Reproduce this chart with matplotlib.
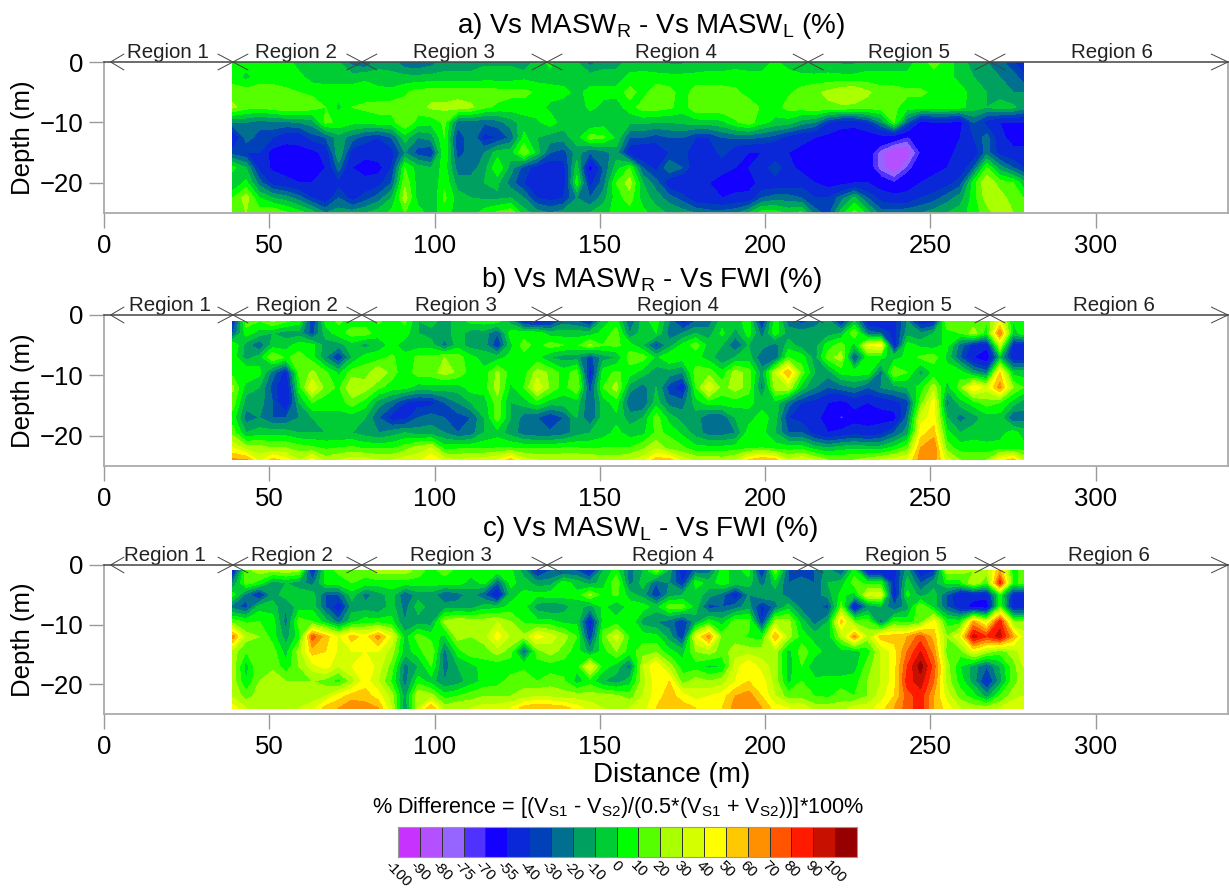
import numpy as np
import matplotlib
matplotlib.use('Agg')
import matplotlib.pyplot as plt
from matplotlib.colors import ListedColormap, BoundaryNorm

plt.rcParams['font.family'] = ['Liberation Sans', 'DejaVu Sans']
plt.rcParams['mathtext.default'] = 'regular'

W, H = 1229, 888

# colour scale
labels = [-100, -90, -80, -75, -70, -55, -40, -30, -20, -10, 0, 10, 20, 30, 40, 50, 60, 70, 80, 90, 100]
colors = ['#c832ff', '#b450ff', '#9664ff', '#5032ff', '#1400ff', '#0a28d8', '#0040b8', '#006f90',
          '#00a060', '#00cc33', '#00ff00', '#55ff00', '#aaff00', '#d4ff00', '#ffff00', '#ffc800',
          '#ff9000', '#ff5500', '#ff1a00', '#c81000', '#960000']
levels = labels + [110]

regions = ['Region 1', 'Region 2', 'Region 3', 'Region 4', 'Region 5', 'Region 6']
region_x = [19.4, 58, 106, 173, 243.5, 305]
region_marks = [39, 78, 134, 213, 268]

xs = list(range(39, 276, 4)) + [278]

depth_a = [0, -2.5, -5, -7.5, -10, -12.5, -15, -17.5, -20, -22.5, -25]
depth_bc = [-1, -3, -5, -7, -9.5, -12, -14.5, -17, -19.5, -22, -24]

diff_a = [
    [5, 5, 5, 5, 5, -5, -5, -5, -10, -25, -30, -15, -15, -28, -30, -25, -15, -15, -15, -12, -12, -12, -20, -5, 3, -10, -10, -25, -15, -15,
     -5, -5, -8, -12, -12, -8, -5, -5, -5, -5, -5, 2, -5, -10, -12, -8, -12, -12, -5, -5, -5, -5, 5, 15, 5, -5, -15, -20, -25, -40, -50],
    [5, -3, 5, 5, 5, 3, -5, -5, -5, -5, -2, -5, -7, -7, -7, -7, -7, -7, -7, -5, -5, -5, -3, -5, -5, -5, -5, -5, -5, -5,
     2, 3, 3, 3, 3, 3, 3, 3, 5, 3, 3, 3, 5, 3, 3, 3, 3, 3, 3, 3, 3, 3, 3, 3, 3, -3, -10, -15, -20, -25, -35],
    [15, 15, 15, 15, 12, 10, 8, 5, 5, 5, 5, 3, 3, 8, 14, 15, 15, 15, 15, 15, 14, 13, 13, 8, 5, 3, -3, 3, 3, 3,
     15, 5, 18, 14, 5, 15, 15, 15, 12, 5, 3, 3, 8, 14, 18, 22, 28, 30, 22, 15, 15, 12, 12, 8, 5, 3, -3, -10, -15, -20, -20],
    [22, 14, 12, 15, 20, 18, 15, 10, -3, 10, 12, 14, 15, 15, 15, 22, 22, 25, 22, 12, 8, 5, 5, 5, -3, -5, -8, 3, -3, -5,
     5, 15, 15, 12, 5, 17, 18, 18, 18, 17, 8, 5, 14, 15, 18, 18, 18, 17, 15, 15, 12, 5, 5, 5, 5, 3, -5, -10, -5, -8, -15],
    [-20, -20, -25, -22, -22, -20, -15, 12, 8, 3, 3, 5, 5, 20, 5, 3, 12, -25, -25, -28, -25, -15, -5, -2, 5, -5, -5, -10, -5, -3,
     -8, -8, -10, -10, -8, -5, -5, -3, 8, 15, 3, -3, -5, -15, -20, -40, -50, -50, -40, -20, 10, -30, -60, -55, -55, -60, -30, -45, -55, -55, -55],
    [-55, -25, -35, -40, -50, -50, -35, -30, -15, -25, -35, -40, -30, -5, -20, -15, 10, -40, -20, -45, -40, -28, 3, -10, -15, -15, -5, 15, 12, -2,
     -30, -30, -35, -30, -30, -40, -40, -30, -28, -28, -30, -35, -45, -50, -55, -60, -62, -65, -65, -62, -65, -72, -62, -62, -60, -55, -40, -25, -50, -62, -62],
    [-35, -40, -40, -62, -62, -60, -60, -50, -10, -45, -50, -45, -45, -20, -35, -40, 10, -35, -25, -20, -5, -5, 20, -5, -30, -35, -15, -30, -25, -15,
     -50, -55, -50, -40, -35, -50, -50, -35, -50, -55, -55, -55, -55, -60, -62, -62, -62, -62, -65, -78, -88, -85, -70, -62, -60, -50, -50, -25, -45, -50, -50],
    [3, -10, -45, -58, -62, -62, -60, -55, -25, -55, -62, -62, -40, 10, -5, -10, 5, -25, -25, -15, 10, -15, -35, -45, -50, -45, -5, -62, -30, -5,
     10, -30, -45, -20, -30, -50, -50, -50, -55, -55, -50, -30, -50, -60, -62, -62, -62, -65, -65, -78, -85, -75, -62, -60, -55, -50, -30, 10, -15, -30, -40],
    [-10, 3, -25, -45, -50, -55, -55, -50, -45, -50, -50, -45, -30, 18, -5, -10, 8, -15, -15, -10, -8, -25, -40, -55, -55, -50, 5, -45, -25, 10,
     25, -10, -25, -50, -55, -50, -55, -62, -65, -62, -50, -50, -50, -45, -55, -62, -60, -55, -55, -65, -70, -62, -55, -50, -45, -35, 5, 30, 15, 10, -5],
    [10, 25, 0, -10, -15, -25, -40, -50, -30, -45, -35, -25, -10, 25, -5, -10, 12, -5, -10, -12, -12, -10, -20, -40, -45, -40, -20, -30, -15, 5,
     15, -5, -15, -25, -35, -50, -50, -55, -50, -50, -30, -25, -25, -30, -40, -40, -25, -8, -30, -45, -50, -50, -40, -35, -25, -15, 5, 25, 25, 15, 10],
    [12, 20, 15, 20, 12, 5, -5, -20, -15, -15, -10, -5, 3, 10, 5, -5, 5, -5, -5, 5, 12, 18, -5, -15, -20, -15, -10, -10, -3, 3,
     5, 3, -5, -12, -15, -20, -25, -25, -22, -10, 5, 5, -3, 3, -25, -35, -5, 15, -5, -25, -25, -22, -20, -15, -10, -5, 5, 15, 25, 20, 10],
]

diff_b = [
    [-45, 15, 10, 22, 12, 5, -40, 3, 12, 5, 5, 12, 3, 12, -10, -5, -15, -5, 3, 5, 5, -15, -45, -50, -45, -25, -30, -45, -5, 5,
     -30, -5, 5, -20, -50, -30, -25, -5, -5, 5, -45, 8, -25, -35, -25, -15, -45, -10, -50, -55, -45, -20, -50, -45, 20, 15, 15, 10, 40, 0, 10],
    [-30, 5, -5, -10, -15, -15, -35, -5, 5, 15, 15, 3, 3, 5, -10, -15, -15, -5, -15, -15, -30, 5, 5, 5, -5, -5, -5, -5, 3, 15,
     -20, -5, 0, -25, -20, -10, -15, 3, -15, 5, -25, 5, -15, -15, -15, -15, -10, 20, -25, -30, -45, -15, -20, -10, 5, 10, 25, 5, 70, -5, 5],
    [10, -15, -30, -5, -5, 5, 3, -15, -15, -5, -15, -5, 3, -5, -5, -5, -25, -5, -15, -15, -40, -3, 15, 5, 15, 10, 8, 22, 10, 12,
     5, -10, -35, -15, 3, 15, -5, -10, -30, -10, -15, -25, -5, -15, -15, 5, 15, -5, 40, 45, -50, 5, -3, -5, 3, -25, -45, -50, 30, -45, -45],
    [5, -15, -5, 20, 8, 15, 5, -20, -42, -10, 5, 5, 12, 3, 12, 12, 20, 15, 3, -5, -5, 3, 5, 3, -10, -15, -15, -35, -15, -10,
     15, 15, -3, 10, 5, 3, -5, -20, -10, -5, -30, -30, 10, 5, -15, 15, 25, -35, 5, 3, -5, 3, 12, 15, -3, -30, -55, -70, -10, -50, -50],
    [5, 10, 3, -25, -45, 12, 22, 12, -3, 15, 15, 30, 15, 3, 15, 15, 25, 18, 5, 3, 22, 5, 5, 25, 18, 5, 15, -50, 5, 12,
     5, -5, -15, -15, -20, 15, 15, 3, 25, 15, -15, 30, 60, 15, -10, -15, 3, 5, 5, -25, 20, 10, -15, 3, 5, 5, -15, -25, 50, -5, -5],
    [22, -5, -10, -35, -55, 5, 40, 15, 8, 30, 25, 12, 5, 3, -5, -3, -5, -5, 5, 5, 25, -3, 10, 38, 18, 5, 20, -35, 10, 25,
     -15, -25, -10, -35, -50, 10, 40, 15, 25, 15, -25, 25, 30, -5, -20, -30, -25, -20, -30, -20, -15, -10, 5, 25, -5, 15, 50, 35, 65, 20, 10],
    [15, -15, -15, -30, -55, -10, 10, 5, 5, 15, 5, -15, -25, -40, -45, -45, -30, -20, -10, -5, 15, -10, -5, 5, -5, -5, -5, -30, -5, 5,
     -30, -30, -5, -25, -25, -5, 5, 5, 5, 3, -5, -3, -25, -40, -45, -55, -60, -50, -55, -50, -45, -35, 15, 45, -25, -5, 5, 15, 10, -5, -15],
    [5, -25, -20, -30, -30, -20, -10, -5, -5, -5, -10, -30, -45, -45, -30, -25, -30, -35, -30, -10, 15, -10, -25, -30, -40, -30, -10, -30, -5, -3,
     -15, -10, 15, -5, -15, -15, -30, -28, -10, -5, 5, -5, -40, -45, -50, -62, -72, -62, -62, -62, -62, -25, 35, 45, -10, -25, -15, -5, -5, -30, -25],
    [15, -10, -5, -5, -5, -10, -10, -10, -10, -10, -15, -20, -15, -10, -15, -15, -20, -30, -25, -10, -5, -15, -25, -28, -28, -25, -15, -10, -5, 3,
     -5, -3, 12, 8, -3, -15, -25, -25, -20, 5, 3, -10, -30, -30, -45, -55, -50, -45, -50, -45, -30, -15, 45, 55, 3, -10, -5, -5, -5, 5, -5],
    [40, 25, 25, 20, 20, 15, 12, 8, 10, 12, 8, 8, 8, 15, 25, 30, 5, 8, 8, 8, 10, 10, 8, 8, 8, 10, 10, 8, 10, 10,
     10, 18, 28, 15, 12, 3, 3, 3, 5, 8, 10, 5, 5, 5, -5, -10, -5, -3, -5, -5, 3, 15, 60, 70, 15, 5, 5, 3, 5, 5, 5],
    [62, 62, 35, 55, 45, 30, 45, 25, 30, 35, 35, 30, 30, 35, 35, 50, 35, 30, 35, 35, 40, 55, 35, 30, 30, 30, 30, 30, 25, 25,
     30, 35, 55, 55, 35, 28, 28, 25, 30, 50, 60, 55, 30, 40, 30, 20, 20, 20, 25, 30, 35, 40, 65, 65, 35, 20, 18, 20, 45, 55, 30],
]

diff_c = [
    [-50, 15, 25, 20, 25, 20, -45, 5, 12, 15, 15, 25, 25, 25, 15, 5, 15, 5, 5, 5, 5, 3, -15, -45, -30, -30, -30, -45, -10, 5,
     -25, -10, 15, -15, -50, -25, -25, 5, -5, 5, -45, 15, -30, -35, -30, -15, -30, 5, -50, -55, -45, -15, -50, -40, 25, 25, 20, 25, 60, 5, 15],
    [-20, 15, 5, -15, -10, -15, -25, 3, 5, 10, 5, 5, 5, 5, 5, 5, 3, 5, -5, 3, -30, 3, -5, -15, -15, 5, -5, -15, -5, 20,
     -25, -5, -30, -20, -40, 5, -5, 5, -5, -5, -25, -5, -30, -25, -30, -10, -5, 15, 5, 5, -45, -5, -30, -15, 3, 5, 30, 10, 85, 5, 15],
    [5, -25, -45, -15, -5, -5, -5, -30, -30, -5, -25, -15, -5, -30, -15, -15, -30, -25, -15, -30, -55, -5, 3, 3, 5, 5, 3, 22, 5, 12,
     -5, -15, -40, -15, -10, -5, -15, -25, -50, -20, -10, -15, -25, -30, -25, -15, 3, -5, 35, 35, -50, 3, -15, -5, -30, -55, -50, -50, 5, -45, -45],
    [-25, -35, -5, -5, -20, -5, -3, -30, -50, -15, -15, -20, -5, -25, -5, -15, -15, -15, -15, -5, -5, 3, 3, -15, -20, -15, -5, -15, 3, -10,
     5, 5, -5, 15, 15, -5, -35, -30, -25, -15, -45, -25, -5, -25, -25, -35, 15, -55, -20, -10, -30, -15, 20, -5, -30, -50, -60, -65, 10, -50, -50],
    [15, 8, 10, 5, -25, 15, 10, -5, -25, -3, 5, 5, 3, -20, -15, -15, 22, 30, 25, 25, 30, 20, 8, 3, 3, -3, -3, -50, 3, 5,
     10, -15, -20, -25, -40, -15, 5, -5, 15, 15, -40, 25, 25, -5, -25, -10, 55, 15, 15, -25, 10, 5, 15, 45, 5, 5, 60, 35, 85, 20, 20],
    [65, 25, 20, 5, -15, 5, 75, 55, 38, 55, 45, 65, 38, -5, 15, 5, -3, 25, 20, 25, 45, 28, 22, 45, 35, 25, 10, -40, 15, 35,
     8, 5, 3, -15, -40, 40, 65, 15, 15, 8, 5, 60, 25, 5, -5, -5, 25, 65, 25, 55, 55, 60, 75, 55, 20, 40, 95, 80, 95, 60, 35],
    [25, 10, 15, 15, -5, 25, 55, 50, 38, 40, 40, 40, 25, -5, 5, 20, -25, 5, 18, 15, 25, 15, -30, 15, 25, 15, 5, -15, 5, 20,
     5, 15, 18, 3, -5, 20, 25, 15, 25, 25, 25, 25, -5, 15, 5, -5, -5, -5, 5, 30, 45, 70, 90, 65, 15, 15, 40, 25, 15, 25, 35],
    [25, -5, 20, 18, 3, 20, 35, 45, 30, 40, 50, 35, 15, -25, -10, 10, -25, -10, -5, 5, 3, 3, 8, 5, 5, 5, 3, 40, 5, -5,
     -25, 30, 50, 25, 5, 5, -3, 0, 35, 50, 35, 25, -5, 10, -10, -10, -10, -5, 15, 30, 45, 80, 105, 75, 25, 0, -15, -30, -10, 15, 30],
    [25, 0, 20, 25, 20, 20, 20, 15, 5, 25, 45, 30, 8, -25, 5, -5, -20, -15, -5, 3, 5, 15, 15, 10, 15, 12, -5, 5, -10, -15,
     -5, 25, 45, 50, 15, 25, 20, 25, 40, 50, 45, 25, -3, 10, 3, 5, 5, 5, 20, 30, 45, 85, 95, 70, 25, 5, -15, -45, -15, 15, 25],
    [28, 15, 25, 25, 25, 30, 25, 30, 45, 55, 55, 45, 25, -15, 30, 25, 5, 10, 15, 20, 20, 20, 25, 30, 28, 25, 25, 25, 25, 22,
     15, 30, 45, 55, 45, 35, 40, 45, 60, 65, 50, 30, 15, 15, 10, 8, 15, 10, 20, 35, 50, 75, 85, 60, 35, 15, 5, -15, 10, 25, 30],
    [45, 30, 30, 30, 30, 30, 35, 55, 60, 70, 65, 60, 30, -20, 30, 60, 25, 30, 30, 35, 35, 40, 55, 60, 58, 55, 45, 35, 30, 30,
     30, 35, 50, 60, 55, 50, 50, 50, 65, 70, 60, 45, 40, 40, 25, 25, 25, 35, 35, 45, 60, 75, 85, 60, 45, 30, 25, 25, 30, 40, 40],
]

cmap = ListedColormap(colors)
norm = BoundaryNorm(levels, cmap.N)


def box(left, top, right, bottom):
    return [left / W, 1 - bottom / H, (right - left) / W, (bottom - top) / H]


def panel(fig, rect, depth, diff, title, title_x, title_y, shift):
    ax = fig.add_axes(box(*rect))
    ax.contourf(xs, depth, diff, levels=levels, cmap=cmap, norm=norm, extend='both')
    ax.set_xlim(0, 340)
    ax.set_ylim(-25, 0)
    ax.set_xticks([0, 50, 100, 150, 200, 250, 300])
    ax.set_yticks([0, -10, -20])
    ax.tick_params(labelsize=18.5, length=11, width=1, color='#999999', pad=4)
    ax.set_ylabel('Depth (m)', fontsize=18.5, labelpad=3)
    for s in ax.spines.values():
        s.set_color('#aaaaaa')
        s.set_linewidth(1.3)
    ax.spines['top'].set_visible(False)

    # region line with arrows
    ax.plot([0, 340], [0, 0], color='#444444', lw=1.1, clip_on=False, zorder=5)
    for m in region_marks:
        ax.plot([m - 4.5, m + 4.5], [1.3, -1.3], color='#444444', lw=0.7, clip_on=False, zorder=5)
        ax.plot([m - 4.5, m + 4.5], [-1.3, 1.3], color='#444444', lw=0.7, clip_on=False, zorder=5)
    ax.plot([6, 2, 6], [1.3, 0, -1.3], color='#444444', lw=0.7, clip_on=False, zorder=5)
    ax.plot([335, 340, 335], [1.3, 0, -1.3], color='#444444', lw=0.7, clip_on=False, zorder=5)
    for name, x in zip(regions, region_x):
        ax.text(x + shift, 0.05, name, ha='center', va='bottom', fontsize=14.8, color='#222222')

    fig.text(title_x / W, 1 - title_y / H, title, ha='center', va='baseline', fontsize=20)
    return ax


fig = plt.figure(figsize=(W / 100, H / 100), dpi=100)

panel(fig, (104, 62, 1228, 213), depth_a, diff_a,
      'a) Vs MASW$_{R}$ - Vs MASW$_{L}$ (%)', 651, 33, 0)
panel(fig, (104, 315, 1228, 466), depth_bc, diff_b,
      'b) Vs MASW$_{R}$ - Vs FWI (%)', 651, 287, 0.5)
ax_c = panel(fig, (104, 565, 1228, 714), depth_bc, diff_c,
             'c) Vs MASW$_{L}$ - Vs FWI (%)', 650, 536, -1)
ax_c.set_xlabel('Distance (m)', fontsize=20, labelpad=2, x=0.505)

fig.text(618 / W, 1 - 813 / H,
         '% Difference = [(V$_{S1}$ - V$_{S2}$)/(0.5*(V$_{S1}$ + V$_{S2}$))]*100%',
         ha='center', va='baseline', fontsize=15.6)

# colour bar
cax = fig.add_axes(box(398, 827, 857, 857))
cax.pcolormesh(np.arange(len(colors) + 1), [0, 1], [np.arange(len(colors))],
               cmap=cmap, vmin=-0.5, vmax=len(colors) - 0.5, edgecolors='#333333', linewidth=0.5)
cax.set_yticks([])
cax.set_xticks(np.arange(len(labels)))
cax.set_xticklabels(labels, rotation=-45, ha='center', va='top', fontsize=11)
cax.tick_params(axis='x', length=0, pad=1)
for s in cax.spines.values():
    s.set_color('#999999')

fig.savefig('out.png', dpi=100)
